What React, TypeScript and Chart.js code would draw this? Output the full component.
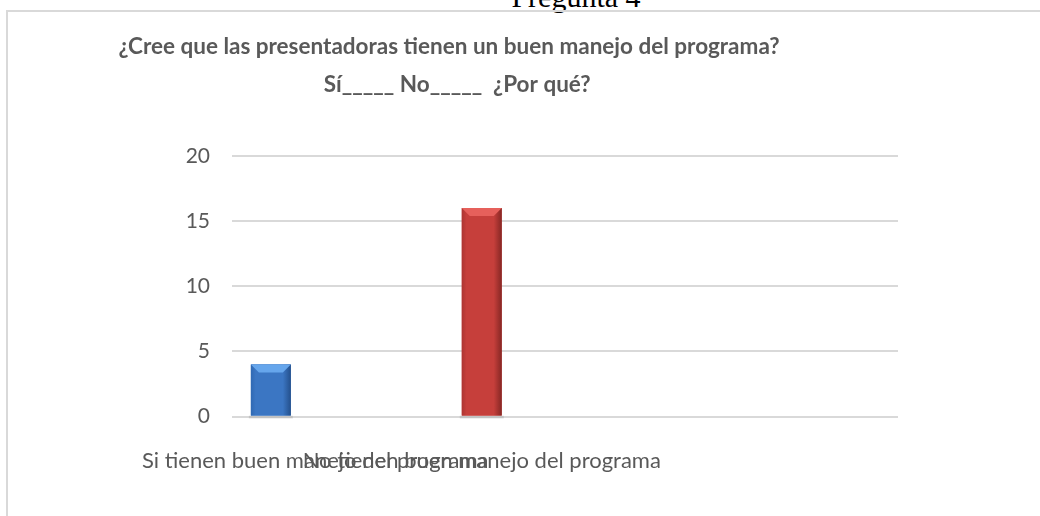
import React, { useEffect, useRef } from "react";
import { Chart, registerables } from "chart.js";

Chart.register(...registerables);

// ---- data ----
const pageHeading = "Pregunta 4";
const titleLines = [
  "¿Cree que las presentadoras tienen un buen manejo del programa?",
  "   Sí_____ No_____  ¿Por qué?",
];
const categories = [
  "Si tienen buen manejo del programa",
  "No tienen buen manejo del programa",
  "",
  "",
];
const seriesNames = ["Sí", "No", "¿Por qué?"];
const siValues = [4, null, null, null];
const noValues = [null, 16, null, null];
const porQueValues = [null, null, null, null];
const yTickValues = [0, 5, 10, 15, 20];

// ---- styles ----
const TEXT = "#595959";
const GRID = "#d9d9d9";
const FONT = "Lato, 'Open Sans', sans-serif";
const barStyles = [
  { base: "#3b76c3", light: "#66a6ec", edge: "#3069b3", dark: "#24508c" },
  { base: "#c63f3b", light: "#e6605b", edge: "#ad3532", dark: "#862724" },
  { base: "#9bbb59", light: "#b7d57a", edge: "#86a44a", dark: "#6b853a" },
];

const bevelPlugin = {
  id: "bevel",
  beforeDatasetsDraw(chart: any) {
    const ctx = chart.ctx;
    chart.data.datasets.forEach((ds: any, di: number) => {
      const meta = chart.getDatasetMeta(di);
      meta.data.forEach((el: any, i: number) => {
        if (ds.data[i] == null) return;
        const { x, base, width } = el.getProps(["x", "base", "width"], true);
        ctx.save();
        ctx.fillStyle = "rgba(0,0,0,0.10)";
        ctx.fillRect(x - width / 2 - 2, base, width + 4, 3);
        ctx.restore();
      });
    });
  },
  afterDatasetsDraw(chart: any) {
    const ctx = chart.ctx;
    chart.data.datasets.forEach((ds: any, di: number) => {
      const meta = chart.getDatasetMeta(di);
      const c = barStyles[di];
      meta.data.forEach((el: any, i: number) => {
        if (ds.data[i] == null) return;
        const { x, y, base, width } = el.getProps(["x", "y", "base", "width"], true);
        const l = x - width / 2;
        const r = x + width / 2;
        const top = Math.min(y, base);
        const bot = Math.max(y, base);
        ctx.save();
        const g = ctx.createLinearGradient(l, 0, r, 0);
        g.addColorStop(0, c.edge);
        g.addColorStop(0.12, c.base);
        g.addColorStop(0.8, c.base);
        g.addColorStop(1, c.dark);
        ctx.fillStyle = g;
        ctx.fillRect(l, top, width, bot - top);
        const d = Math.min(8, (bot - top) / 2);
        ctx.beginPath();
        ctx.moveTo(l, top);
        ctx.lineTo(r, top);
        ctx.lineTo(r - d, top + d);
        ctx.lineTo(l + d, top + d);
        ctx.closePath();
        ctx.fillStyle = c.light;
        ctx.fill();
        ctx.restore();
      });
    });
  },
};

export default function App() {
  const canvasRef = useRef<HTMLCanvasElement | null>(null);

  useEffect(() => {
    const canvas = canvasRef.current;
    if (!canvas) return;
    const values = [siValues, noValues, porQueValues];
    const chart = new Chart(canvas, {
      type: "bar",
      data: {
        labels: categories,
        datasets: seriesNames.map((name, i) => ({
          label: name,
          data: values[i],
          backgroundColor: barStyles[i].base,
          borderWidth: 0,
          categoryPercentage: 0.8,
          barPercentage: 0.9,
        })),
      },
      options: {
        responsive: false,
        animation: false,
        layout: { padding: { top: 28, left: 0, right: 142, bottom: 11 } },
        plugins: {
          legend: { display: false },
          tooltip: { enabled: false },
          title: {
            display: true,
            text: titleLines,
            color: TEXT,
            font: { family: FONT, size: 22.5, weight: "bold", lineHeight: 38 / 22.5 },
            padding: { top: 0, bottom: 52 },
          },
        },
        scales: {
          x: {
            grid: { display: false, drawTicks: false },
            border: { display: false },
            ticks: {
              color: TEXT,
              font: { family: FONT, size: 22 },
              autoSkip: false,
              maxRotation: 0,
              minRotation: 0,
              padding: 31,
            },
          },
          y: {
            min: 0,
            max: 20,
            afterFit: (scale: any) => {
              scale.width = 232;
            },
            afterBuildTicks: (scale: any) => {
              scale.ticks = yTickValues.map((v) => ({ value: v }));
            },
            grid: { color: GRID, lineWidth: 2, drawTicks: false },
            border: { display: false },
            ticks: {
              color: TEXT,
              font: { family: FONT, size: 21 },
              padding: 22,
            },
          },
        },
      },
      plugins: [bevelPlugin],
    });
    return () => chart.destroy();
  }, []);

  return (
    <div
      style={{
        position: "fixed",
        left: 0,
        top: 0,
        width: 1040,
        height: 516,
        overflow: "hidden",
        background: "#ffffff",
      }}
    >
      <div
        style={{
          position: "absolute",
          left: 576 - 200,
          width: 400,
          top: -18,
          textAlign: "center",
          fontFamily: "'Liberation Serif', 'Times New Roman', serif",
          fontSize: 30,
          lineHeight: "30px",
          color: "#000",
        }}
      >
        {pageHeading}
      </div>
      <div
        style={{
          position: "absolute",
          left: 6,
          top: 10,
          width: 1100,
          height: 600,
          border: "2px solid #d9d9d9",
          boxSizing: "border-box",
        }}
      />
      <canvas
        ref={canvasRef}
        width={1040}
        height={516}
        style={{ position: "absolute", left: 0, top: 0, width: 1040, height: 516 }}
      />
    </div>
  );
}
